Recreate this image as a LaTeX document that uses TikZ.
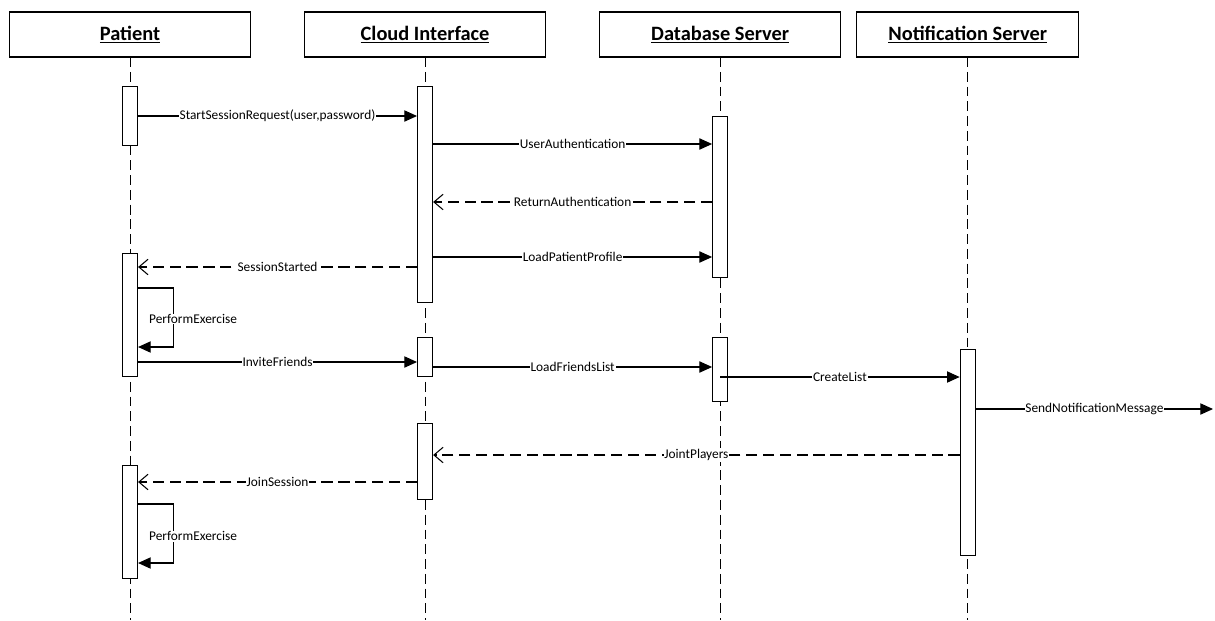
\documentclass[tikz,border=0pt]{standalone}
\usepackage{fontspec}
\setmainfont{Carlito}
\usetikzlibrary{positioning,arrows.meta}

\begin{document}
\begin{tikzpicture}[
  x=0.025cm, y=-0.025cm,
  actor/.style={draw, line width=0.9pt, outer sep=0pt, minimum width=6.025cm, minimum height=1.125cm,
                inner sep=0pt, font=\fontsize{14.5}{17}\selectfont\bfseries},
  life/.style={line width=0.7pt, dash pattern=on 7pt off 3.5pt},
  act/.style={draw, fill=white, line width=0.8pt, minimum width=0.375cm, inner sep=0pt, anchor=north},
  call/.style={-{Triangle[length=9pt,width=8pt]}, line width=0.75pt},
  reply/.style={-{Straight Barb[length=6.5pt,width=11pt]}, line width=0.75pt, dash pattern=on 8pt off 4pt},
  lbl/.style={fill=white, inner sep=0.6pt, font=\fontsize{9.5}{11}\selectfont}
]
  \useasboundingbox (0,0) rectangle (1215,620);

  % Lebenslinien
  \node[actor] (pat) at (130,34.5) {\underline{Patient}};
  \node[actor, right=1.35cm of pat] (cloud) {\underline{Cloud Interface}};
  \node[actor, right=1.35cm of cloud] (db) {\underline{Database Server}};
  \node[actor, minimum width=5.55cm, right=0.4cm of db] (notif) {\underline{Notification Server}};

  \foreach \n in {pat,cloud,db,notif}
    \draw[life] (\n.south) -- (\n.south |- 0,620);

  % Aktivierungen
  \node[act, minimum height=1.475cm] (pa1) at (pat.south |- 0,86) {};
  \node[act, minimum height=3.075cm] (pa2) at (pat.south |- 0,253) {};
  \node[act, minimum height=2.825cm] (pa3) at (pat.south |- 0,465) {};
  \node[act, minimum height=5.4cm] (ca1) at (cloud.south |- 0,86) {};
  \node[act, minimum height=0.975cm] (ca2) at (cloud.south |- 0,337) {};
  \node[act, minimum height=1.9cm] (ca3) at (cloud.south |- 0,423) {};
  \node[act, minimum height=4.025cm] (da1) at (db.south |- 0,116) {};
  \node[act, minimum height=1.6cm] (da2) at (db.south |- 0,337) {};
  \node[act, minimum height=5.15cm] (na1) at (notif.south |- 0,349) {};
  \coordinate (sendEnd) at (1213,409);

  % Nachrichten
  \draw[call] (pa1.east |- 0,116) -- node[lbl] {StartSessionRequest(user,password)} (ca1.west |- 0,116);
  \draw[call] (ca1.east |- 0,144) -- node[lbl] {UserAuthentication} (da1.west |- 0,144);
  \draw[reply] (da1.west |- 0,202) -- node[lbl] {ReturnAuthentication} (ca1.east |- 0,202);
  \draw[call] (ca1.east |- 0,257) -- node[lbl] {LoadPatientProfile} (da1.west |- 0,257);
  \draw[reply] (ca1.west |- 0,267) -- node[lbl] {SessionStarted} (pa2.east |- 0,267);
  \draw[call] (pa2.east |- 0,288) -- ++(35,0) |- (pa2.east |- 0,347);
  \node[lbl, anchor=west] (ex1) at ([xshift=0.25cm]pa2.east |- 0,319) {PerformExercise};
  \draw[call] (pa2.east |- 0,362) -- node[lbl] {InviteFriends} (ca2.west |- 0,362);
  \draw[call] (ca2.east |- 0,367) -- node[lbl] {LoadFriendsList} (da2.west |- 0,367);
  \draw[call] (da2.center |- 0,377) -- node[lbl] {CreateList} (na1.west |- 0,377);
  \draw[call] (na1.east |- 0,409) -- node[lbl] {SendNotificationMessage} (sendEnd);
  \draw[reply] (na1.west |- 0,455) -- node[lbl] {JointPlayers} (ca3.east |- 0,455);
  \draw[reply] (ca3.west |- 0,482) -- node[lbl] {JoinSession} (pa3.east |- 0,482);
  \draw[call] (pa3.east |- 0,504) -- ++(35,0) |- (pa3.east |- 0,563);
  \node[lbl, anchor=west] (ex2) at ([xshift=0.25cm]pa3.east |- 0,536) {PerformExercise};
\end{tikzpicture}
\end{document}
